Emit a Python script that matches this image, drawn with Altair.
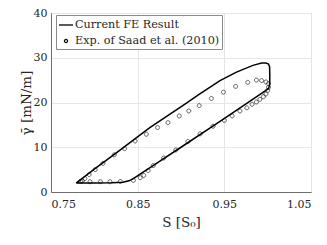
import altair as alt
import pandas as pd

FE_LABEL = "Current FE Result"
EXP_LABEL = "Exp. of Saad et al. (2010)"

# FE simulation loop (ordered along the path)
fe_S = [0.779, 0.800, 0.820, 0.833, 0.840, 0.845, 0.855, 0.870, 0.900, 0.945, 0.975, 0.995,
        1.001, 1.0023, 1.0025, 1.0022, 1.001, 0.998, 0.993, 0.983, 0.964, 0.945, 0.920,
        0.905, 0.864, 0.830, 0.800, 0.779]
fe_gamma = [2.0, 2.0, 2.05, 2.2, 2.5, 3.0, 4.3, 6.2, 10.0, 15.8, 19.7, 22.3,
            23.1, 24.0, 26.0, 28.0, 28.6, 28.8, 28.8, 28.3, 26.8, 24.9, 21.7,
            19.7, 14.4, 9.4, 5.1, 2.0]

# Experimental data
exp_S = [0.784, 0.795, 0.807, 0.818, 0.830, 0.845, 0.853, 0.857, 0.862, 0.868, 0.880,
         0.894, 0.908, 0.922, 0.937, 0.950, 0.959, 0.968, 0.976, 0.982, 0.987, 0.991,
         0.995, 0.998, 1.000, 1.001, 1.001, 0.998, 0.993, 0.987, 0.977, 0.963, 0.949,
         0.935, 0.921, 0.909, 0.898, 0.885, 0.873, 0.860, 0.847, 0.835, 0.823, 0.810,
         0.801, 0.794, 0.789, 0.786]
exp_gamma = [2.37, 2.3, 2.3, 2.3, 2.35, 2.6, 3.2, 3.7, 4.8, 5.9, 7.6,
             9.4, 11.3, 13.0, 14.7, 16.0, 17.0, 18.1, 18.8, 19.6, 20.1, 20.7,
             21.3, 21.9, 22.7, 23.4, 24.2, 24.6, 24.9, 25.0, 24.5, 23.6, 22.3,
             20.9, 19.3, 18.1, 17.0, 15.5, 14.4, 12.9, 11.4, 9.7, 8.3, 6.4,
             5.0, 3.9, 3.0, 2.5]

x_ticks = [0.75, 0.85, 0.95, 1.05]
y_ticks = [0, 10, 20, 30, 40]

fe_df = pd.DataFrame({"S": fe_S, "gamma": fe_gamma, "order": list(range(len(fe_S)))})
exp_df = pd.DataFrame({"S": exp_S, "gamma": exp_gamma, "series": EXP_LABEL})

FONT = "DejaVu Serif"
TXT = "#262626"

xs = alt.Scale(domain=[0.75, 1.05], nice=False, zero=False)
ys = alt.Scale(domain=[0, 40], nice=False)

x_axis = alt.Axis(values=x_ticks, format=".2f", title="S [S₀]", grid=True, ticks=False,
                  labelPadding=6, titlePadding=6)
y_axis = alt.Axis(values=y_ticks, title="γ̄ [mN/m]", grid=True, ticks=False,
                  labelPadding=4, titlePadding=0)

line = alt.Chart(fe_df).mark_line(color="black", strokeWidth=1.5).encode(
    x=alt.X("S:Q", scale=xs, axis=x_axis),
    y=alt.Y("gamma:Q", scale=ys, axis=y_axis),
    order="order:Q",
)

LINE_PATH = "M-1,0H1"
CIRC_PATH = "M-0.22,0A0.22,0.22,0,1,1,0.22,0A0.22,0.22,0,1,1,-0.22,0"

pts = alt.Chart(exp_df).mark_point(filled=False, color="black", strokeWidth=0.9, size=330).encode(
    x=alt.X("S:Q", scale=xs),
    y=alt.Y("gamma:Q", scale=ys),
    shape=alt.Shape("series:N",
                    scale=alt.Scale(domain=[FE_LABEL, EXP_LABEL], range=[LINE_PATH, CIRC_PATH]),
                    legend=alt.Legend(title=None, orient="none", legendX=5, legendY=2,
                                      symbolSize=196, symbolStrokeWidth=1.3,
                                      symbolStrokeColor="black", symbolFillColor="transparent",
                                      symbolOpacity=1,
                                      labelFont=FONT, labelFontSize=11.2, labelColor=TXT,
                                      labelOffset=1, rowPadding=2, padding=2,
                                      strokeColor="#8a8a8a", fillColor="white")),
)

chart = alt.layer(line, pts).properties(
    width=260, height=179,
    background="white",
    autosize=alt.AutoSizeParams(type="none"),
    padding={"left": 43, "top": 5, "right": 8, "bottom": 40},
).configure_view(stroke="#6e6e6e", strokeWidth=1).configure_axis(
    labelFont=FONT, labelFontSize=11, labelColor=TXT,
    titleFont=FONT, titleFontSize=13.5, titleColor=TXT, titleFontWeight="normal",
    domainColor="#6e6e6e", gridColor="#e6e6e6", gridWidth=1,
).configure_legend(
    labelFont=FONT, labelFontSize=11.2, labelColor=TXT,
).configure_text(font=FONT)

chart.save("out.html", embed_options={"renderer": "svg", "actions": False})
